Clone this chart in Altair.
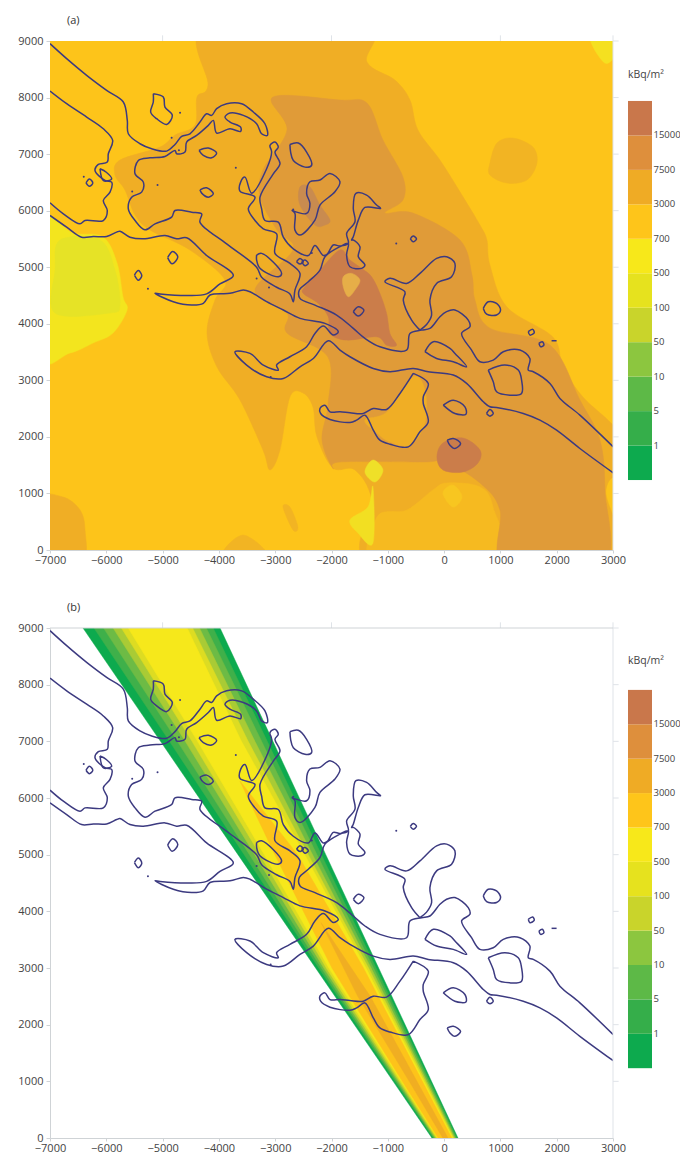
import altair as alt
import pandas as pd

FONT = "Open Sans"
XMIN, XMAX, YMIN, YMAX = -7000, 3000, 0, 9000
x_ticks = list(range(-7000, 3001, 1000))
y_ticks_a = list(range(0, 9001, 1000))
y_ticks_b = list(range(0, 9001, 500))
top_ticks = [-5000, -2000, 1000]
right_ticks = list(range(1000, 9001, 1000))

# ---- legend
legend_labels = ["1", "5", "10", "50", "100", "500", "700", "3000", "7500", "15000"]
legend_colors = ["#0DAA4E", "#35AE4A", "#5DB947", "#8CC63F", "#C9D42B", "#E6E21E",
                 "#F7E81A", "#FEC51A", "#EFAB25", "#DE8F3C", "#C9774B"]

# ---- contour lines (river banks, inlets, islands), data units
L1 = [(-7000,8953),(-6704,8688),(-6349,8393),(-5994,8127),(-5698,7921),(-5627,7596),(-5609,7360),(-5402,7183),
(-5194,7095),(-4928,7053),(-4780,7171),(-4662,7313),(-4514,7360),(-4336,7567),(-4218,7714),(-4129,7685),
(-4040,7803),(-3862,7891),(-3596,7891),(-3389,7744),(-3182,7537),(-3140,7330),(-3241,7360),(-3330,7537),
(-3566,7685),(-3803,7726),(-3892,7655),(-3803,7567),(-3614,7478),(-3614,7401),(-3803,7449),(-4040,7372),
(-4099,7596),(-4188,7508),(-4395,7330),(-4573,7213),(-4602,7036),(-4750,7006),(-4780,7065),(-4958,6959),
(-5224,6935),(-5431,6888),(-5490,6652),(-5342,6505),(-5372,6328),(-5550,6239),(-5609,6033),(-5490,5826),
(-5313,5661),(-5135,5767),(-4839,5885),(-4780,6003),(-4484,5974),(-4306,5944),(-4336,5797),(-3862,5413),
(-3330,5000),(-3241,4823),(-2974,4646),(-2738,4528),(-2679,4390),(-2649,4596),(-2560,4891),(-2738,5068),
(-3004,5245),(-2974,5590),(-3211,5679),(-3359,5826),(-3478,6033),(-3359,6239),(-3626,6345),(-3614,6505),
(-3537,6593),(-3418,6310),(-3152,6741),(-3063,7036),(-3093,7154),(-3004,7213),(-2945,7124),(-3004,7036),
(-2915,6829),(-3034,6652),(-3270,6239),(-3241,6033),(-3182,5826),(-2945,5797),(-2856,5531),(-2678,5325),
(-2412,5207),(-2294,5384),(-2146,5207),(-2075,5233),(-1968,5393),(-1850,5375),(-1702,5422),(-1731,5597),
(-1583,5804),(-1613,6040),(-1566,6305),(-1376,6276),(-1199,6099),(-1128,6040),(-1406,6057),(-1524,5833),
(-1613,5538),(-1643,5479),(-1613,5481),(-1495,5363),(-1524,5186),(-1406,5038),(-1465,4980),(-1672,5009),
(-1732,5215),(-1702,5422),(-1850,5363),(-2116,5186),(-2205,4950),(-2412,4743),(-2572,4596),(-2560,4449),
(-2294,4331),(-1909,4154),(-1613,3918),(-1406,3741),(-1140,3593),(-666,3534),(-607,3829),(-400,3888),
(-252,3918),(-74,4125),(44,4214),(192,4243),(429,4066),(459,3948),(311,3830),(488,3535),(636,3329),
(873,3358),(1051,3505),(1347,3535),(1524,3387),(1495,3181),(1584,3152),(1880,2945),(2057,2680),(2412,2385),
(3004,1824)]
L2 = [(-7000,8115),(-6704,7891),(-6349,7655),(-6053,7448),(-5887,7242),(-5964,7006),(-5982,6859),(-6142,6817),
(-6201,6711),(-6023,6534),(-5905,6505),(-5934,6328),(-6053,6180),(-5982,6003),(-6053,5826),(-6378,5826),
(-6467,5767),(-6763,5944),(-7000,6139)]
L3 = [(-7000,5915),(-6704,5708),(-6438,5531),(-6230,5543),(-5994,5543),(-5816,5620),(-5757,5637),(-5579,5531),
(-5342,5502),(-4958,5561),(-4751,5502),(-4573,5520),(-4218,5207),(-3744,4853),(-3981,4705),(-4218,4528),
(-4573,4499),(-5046,4528),(-5135,4540),(-4810,4391),(-4484,4332),(-4277,4361),(-4158,4509),(-3803,4538),
(-3566,4597),(-3448,4567),(-3152,4391),(-2856,4243),(-2560,4096),(-2116,4007),(-1879,3860),(-1968,3801),
(-2146,3960),(-2294,3830),(-2442,3594),(-2738,3417),(-2975,3270),(-2945,3181),(-3211,3270),(-3448,3476),
(-3714,3505),(-3507,3270),(-3152,3063),(-2856,3034),(-2560,3240),(-2323,3387),(-2057,3700),(-1849,3535),
(-1672,3417),(-1258,3210),(-962,3152),(-548,3210),(-281,3152),(163,3093),(400,2945),(696,2621),(814,2532),
(932,2520),(1406,2414),(1702,2296),(1998,2119),(2412,1795),(3004,1364)]
INLET = [(-429,3888),(-577,4065),(-725,4419),(-696,4566),(-1051,4743),(-962,4803),(-666,4714),(-429,4891),
(-133,5156),(45,5186),(192,5068),(133,4832),(-133,4714),(-252,4419),(-222,4153),(-311,3986),(-429,3888)]
LAKE = [(-548,3122),(-784,2768),(-1021,2485),(-1258,2502),(-1436,2414),(-1672,2426),(-1850,2443),(-2027,2443),
(-2116,2561),(-2205,2503),(-2193,2414),(-2027,2308),(-1672,2255),(-1554,2296),(-1406,2384),(-1258,2119),
(-1140,1942),(-962,1871),(-636,1824),(-429,2090),(-281,2266),(-370,2591),(-370,2709),(-281,2945),(-548,3122)]
ISLANDS = [
 [(-5165,8068),(-4987,8009),(-4958,7832),(-4827,7685),(-4928,7525),(-5106,7626),(-5212,7743),(-5165,7921)],
 [(-4354,7065),(-4188,7106),(-4040,7018),(-4129,6935),(-4277,6976)],
 [(-4336,6369),(-4218,6404),(-4099,6298),(-4188,6239),(-4306,6310)],
 [(-2738,7171),(-2590,7195),(-2442,7036),(-2353,6800),(-2471,6770),(-2678,6888),(-2726,7036)],
 [(-3330,5215),(-3241,5245),(-2886,4891),(-2945,4832),(-3271,4980),(-3330,5127)],
 [(-2708,6010),(-2442,5951),(-2383,6128),(-2442,6305),(-2383,6511),(-2205,6541),(-2027,6659),(-1850,6511),
  (-1939,6334),(-2205,6098),(-2294,5833),(-2560,5568),(-2649,5656),(-2649,5951)],
 [(-2620,5098),(-2560,5156),(-2501,5098),(-2560,5056)],
 [(-2531,5098),(-2472,5127),(-2412,5068),(-2472,5027)],
 [(-1613,4212),(-1524,4301),(-1424,4242),(-1524,4136)],
 [(-6360,6490),(-6300,6560),(-6240,6490),(-6300,6430)],
 [(-4910,5170),(-4820,5280),(-4730,5180),(-4830,5060)],
 [(-5500,4860),(-5430,4940),(-5370,4850),(-5430,4770)],
 [(-600,5500),(-550,5550),(-490,5500),(-550,5450)],
 [(696,4272),(784,4390),(932,4361),(1003,4243),(932,4155),(755,4172)],
 [(1495,3860),(1572,3901),(1601,3842),(1524,3800)],
 [(1684,3653),(1743,3683),(1773,3624),(1714,3594)],
 [(-15,2562),(163,2650),(370,2532),(388,2402),(192,2414)],
 [(56,1942),(163,1972),(293,1883),(192,1795),(104,1854)],
 [(-340,3506),(-192,3683),(104,3565),(193,3476),(400,3240),(163,3329),(-133,3387)],
 [(784,3181),(1080,3270),(1317,3181),(1376,3004),(1376,2768),(1169,2738),(932,2797),(873,2975)],
 [(754,2414),(814,2485),(873,2414),(814,2367)],
 [(-6112,6741),(-6000,6680),(-5905,6560),(-6050,6530)],
]
OPEN_BITS = [[(1909,3700),(1998,3700)]]
DOTS = [(-4840,7290),(-4690,7730),(-4710,7070),(-6400,6600),(-5090,6455),(-5540,6340),(-5260,4620),(-3330,4800),
        (-3700,6760),(-2680,6020),(-3080,3060),(-2350,5250),(-850,5420),(-3110,4640)]

# ---- panel (a) filled zones
BASE_COLOR = "#FDC41A"
zones_a = [
 ("#F0AE25", [(-4212,9300),(-1405,9300),(-1370,8628),(-873,8310),(-606,7956),(-464,7426),(-74,6895),(317,6276),
  (637,5746),(761,5481),(814,5039),(1116,4296),(1933,3766),(2111,3235),(2466,2705),(3100,2068),(3100,1415),
  (2875,1061),(2821,-300),(-1192,-300),(-1281,884),(-1583,1415),(-1974,1450),(-2258,1998),(-2329,2528),(-2507,2776),
  (-2738,2705),(-2915,1768),(-3093,1415),(-3217,1768),(-3626,2652),(-4034,3235),(-4212,3837),(-4070,4420),
  (-3892,4774),(-4514,5304),(-5224,5658),(-5490,5923),(-5668,6365),(-5846,6630),(-5757,6895),(-5046,7125),
  (-4780,7337),(-4425,7514),(-4389,8009),(-4194,8221)]),
 ("#F6BA20", [(-1192,-300),(-1192,583),(-660,708),(-198,1061),(51,1184),(637,1114),(868,760),(992,-300)]),
 ("#E09B38", [(-3040,8009),(-1850,7956),(-1370,7903),(-1086,7249),(-731,6595),(-731,6188),(-1050,5958),(-553,5958),
  (282,5481),(495,4862),(548,4420),(814,3923),(1880,3624),(2413,2652),(2768,1945),(2857,1061),(2821,-300),(1081,-300),
  (992,707),(637,1185),(15,1556),(-376,1556),(-1850,1556),(-1974,1450),(-2169,1945),(-2063,2564),(-2063,3412),
  (-2791,3837),(-2791,4190),(-3359,4597),(-2684,5304),(-2968,5658),(-3270,6241),(-3217,6718),(-2791,7426)]),
 ("#F0AE25", [(-1406,2298),(-1015,2440),(-553,3059),(-340,2829),(-340,2245),(-607,1856),(-961,1909),(-1192,2069)]),
 ("#CB7D4A", [(-1850,5304),(-2205,4950),(-2472,4655),(-2501,4537),(-2235,4360),(-2057,4124),(-2028,3829),(-1732,3711),
  (-1199,3770),(-1021,3622),(-844,3622),(-962,3829),(-1021,4183),(-1140,4537),(-1288,4832),(-1465,4980),(-1672,5127)]),
 ("#E6AE48", [(-1791,4832),(-1643,4891),(-1495,4773),(-1584,4596),(-1702,4478),(-1791,4655)]),
 ("#C98B4F", [(-2560,6418),(-2382,6418),(-2205,6100),(-2027,5834),(-2116,5746),(-2294,5746),(-2560,6100)]),
 ("#CB7D4A", [(-127,1644),(-20,1892),(335,1980),(637,1768),(601,1538),(335,1379),(-20,1415)]),
 ("#F2B423", [(814,6842),(939,7196),(1223,7284),(1578,7125),(1649,6842),(1472,6542),(1116,6488),(814,6630)]),
 ("#F0AE25", [(-7200,884),(-6769,937),(-6467,707),(-6378,354),(-6432,-200),(-7200,-200)]),
 ("#F2B423", [(-3928,-100),(-3572,265),(-3146,-100)]),
 ("#F2B423", [(-2862,760),(-2738,760),(-2596,407),(-2684,354)]),
 ("#F3E51E", [(-7200,5834),(-6592,5604),(-6059,5534),(-5810,5074),(-5704,4473),(-5632,4243),(-5881,3837),(-6236,3660),
  (-6645,3483),(-7200,3448)]),
 ("#E6E326", [(-6822,5481),(-6112,5481),(-5846,4950),(-5757,4332),(-5934,4190),(-6911,4190),(-6911,4950)]),
 ("#F5E020", [(2590,9100),(3100,9100),(3100,8840),(2857,8610)]),
 ("#F2DF22", [(-1264,1114),(-1352,760),(-1672,530),(-1530,300),(-1264,124)]),
 ("#EFE028", [(-1406,1379),(-1264,1591),(-1086,1414),(-1228,1202)]),
 ("#F8C620", [(-20,1008),(157,1149),(317,937),(157,760)]),
]

# ---- panel (b) nested plume bands (left edge going down, then right edge going up)
plume_y = [9000, 7000, 5000, 3000, 1000, 0]
zones_b = [
 ("#0DAA4E", [-6414,-5037,-3660,-2282,-905,-216], [-3980,-3041,-2102,-1163,-224,246]),
 ("#3FB04A", [-6219,-4877,-3551,-2226,-871,-193], [-4102,-3141,-2180,-1208,-251,228]),
 ("#6DBB45", [-6049,-4738,-3457,-2181,-844,-174], [-4223,-3241,-2258,-1253,-278,209]),
 ("#A9CB35", [-5879,-4598,-3364,-2137,-816,-156], [-4345,-3360,-2336,-1297,-306,191]),
 ("#DDDC22", [-5732,-4478,-3270,-2092,-789,-137], [-4467,-3480,-2414,-1342,-333,172]),
 ("#F6E81B", [-5611,-4378,-3193,-2047,-762,-119], [-4564,-3600,-2476,-1387,-360,154]),
]
orange_poly = [(-3626,6300),(-3006,5000),(-1991,3000),(-742,1000),(-105,0),(135,0),(-387,1000),(-1432,3000),(-2601,5000)]
center_poly = [(-2186,3800),(-1534,2500),(-619,1000),(-22,0),(70,0),(-483,1000),(-1312,2500)]

x_scale = alt.Scale(domain=[XMIN, XMAX], nice=False, zero=False)
y_scale = alt.Scale(domain=[YMIN, YMAX], nice=False, zero=False)
AX = dict(title=None, grid=False, domainColor="#cfd3d6", tickColor="#cfd3d6",
          labelFont=FONT, labelFontSize=11, labelColor="#444444", labelOverlap=False, labelFlush=False)
AX_X = dict(tickSize=3, labelPadding=1, **AX)
AX_Y = dict(tickSize=4, labelPadding=3, **AX)


def enc(y_ticks):
    return dict(
        x=alt.X("x:Q", scale=x_scale, axis=alt.Axis(values=x_ticks, format="d", **AX_X)),
        y=alt.Y("y:Q", scale=y_scale, axis=alt.Axis(values=y_ticks, format="d", **AX_Y)),
    )


def poly(points, color, y_ticks, curve="linear-closed"):
    df = pd.DataFrame({"x": [p[0] for p in points], "y": [p[1] for p in points], "i": range(len(points))})
    return alt.Chart(df).mark_line(fill=color, stroke=color, strokeWidth=0.5, fillOpacity=1,
                                   interpolate=curve, clip=True).encode(
        order=alt.Order("i:Q"), **enc(y_ticks))


def contour_layers(y_ticks):
    rows = []
    lines = [L1, L2, L3, INLET, LAKE] + [s + s[:1] for s in ISLANDS] + OPEN_BITS
    for k, line in enumerate(lines):
        for i, (x, y) in enumerate(line):
            rows.append({"x": x, "y": y, "i": i, "k": k})
    lines_ch = alt.Chart(pd.DataFrame(rows)).mark_line(color="#3C3A80", strokeWidth=1.5, clip=True,
                                                       interpolate="catmull-rom").encode(
        detail="k:N", order=alt.Order("i:Q"), **enc(y_ticks))
    dots = alt.Chart(pd.DataFrame({"x": [d[0] for d in DOTS], "y": [d[1] for d in DOTS]})).mark_point(
        filled=True, color="#3C3A80", size=4, opacity=1).encode(**enc(y_ticks))
    return [lines_ch, dots]


def frame_layers(y_ticks, top_line):
    faint = "#dfe3e8"
    out = []
    t = pd.DataFrame({"x": top_ticks + [XMAX], "y": [YMAX] * 4, "y2": [YMAX + 100] * 4})
    out.append(alt.Chart(t).mark_rule(color=faint, clip=False).encode(
        x=alt.X("x:Q", scale=x_scale), y=alt.Y("y:Q", scale=y_scale), y2="y2:Q"))
    r = pd.DataFrame({"y": right_ticks, "x": [XMAX] * len(right_ticks), "x2": [XMAX + 100] * len(right_ticks)})
    out.append(alt.Chart(r).mark_rule(color=faint, clip=False).encode(
        y=alt.Y("y:Q", scale=y_scale), x=alt.X("x:Q", scale=x_scale), x2="x2:Q"))
    e = pd.DataFrame({"x": [XMAX], "y": [YMIN], "y2": [YMAX]})
    out.append(alt.Chart(e).mark_rule(color=faint).encode(
        x=alt.X("x:Q", scale=x_scale), y=alt.Y("y:Q", scale=y_scale), y2="y2:Q"))
    if top_line:
        e2 = pd.DataFrame({"x": [XMIN], "x2": [XMAX], "y": [YMAX]})
        out.append(alt.Chart(e2).mark_rule(color="#cfd3d6").encode(
            x=alt.X("x:Q", scale=x_scale), x2="x2:Q", y=alt.Y("y:Q", scale=y_scale)))
    return out


def legend(height, domain, title_y):
    bands = pd.DataFrame({"y": list(range(11)), "y2": list(range(1, 12)), "c": legend_colors,
                          "x": [0] * 11, "x2": [1] * 11})
    xs = alt.Scale(domain=[0, 1], nice=False, zero=False)
    ys = alt.Scale(domain=domain, nice=False, zero=False)
    rects = alt.Chart(bands).mark_rect(stroke=None).encode(
        x=alt.X("x:Q", scale=xs, axis=None), x2="x2:Q",
        y=alt.Y("y:Q", scale=ys, axis=None), y2="y2:Q",
        color=alt.Color("c:N", scale=None, legend=None))
    labs = pd.DataFrame({"y": list(range(1, 11)), "t": legend_labels, "x": [1] * 10})
    text = alt.Chart(labs).mark_text(align="left", dx=1.5, font=FONT, fontSize=9.5, color="#444444").encode(
        x=alt.X("x:Q", scale=xs, axis=None), y=alt.Y("y:Q", scale=ys, axis=None), text="t:N")
    unit = pd.DataFrame({"x": [0], "y": [title_y], "t": ["kBq/m²"]})
    utext = alt.Chart(unit).mark_text(align="left", font=FONT, fontSize=10.5, color="#444444").encode(
        x=alt.X("x:Q", scale=xs, axis=None), y=alt.Y("y:Q", scale=ys, axis=None), text="t:N")
    return alt.layer(rects, text, utext).properties(width=24, height=height)


def title(text):
    return alt.TitleParams(text=text, anchor="start", frame="group", dx=17, offset=9, fontSize=11,
                           font=FONT, fontWeight="normal", color="#333333")


base_df = pd.DataFrame({"x": [XMIN], "x2": [XMAX], "y": [YMIN], "y2": [YMAX]})
base = alt.Chart(base_df).mark_rect(color=BASE_COLOR).encode(
    x=alt.X("x:Q", scale=x_scale, axis=alt.Axis(values=x_ticks, format="d", **AX_X)), x2="x2:Q",
    y=alt.Y("y:Q", scale=y_scale, axis=alt.Axis(values=y_ticks_a, format="d", **AX_Y)), y2="y2:Q")

panel_a = alt.layer(
    base,
    *[poly(p, c, y_ticks_a, "cardinal-closed") for c, p in zones_a],
    *contour_layers(y_ticks_a),
    *frame_layers(y_ticks_a, False),
).properties(width=563, height=509, title=title("(a)"))

b_polys = [poly(list(zip(l, plume_y)) + list(zip(r[::-1], plume_y[::-1])), c, y_ticks_b) for c, l, r in zones_b]
panel_b = alt.layer(
    *b_polys,
    poly(orange_poly, "#FDC31A", y_ticks_b),
    poly(center_poly, "#F0AE22", y_ticks_b),
    *contour_layers(y_ticks_b),
    *frame_layers(y_ticks_b, True),
).properties(width=563, height=510, title=title("(b)"))

row_a = alt.hconcat(panel_a, legend(509, [-2.03, 12.74], 11.75), spacing=2)
row_b = alt.hconcat(panel_b, legend(510, [-2.03, 12.8], 11.84), spacing=2)

chart = alt.vconcat(row_a, row_b, spacing=36).properties(
    padding={"left": 9, "top": 6, "right": -1, "bottom": 0}, background="white"
).configure_view(stroke=None)

chart.save("out.html", embed_options={"renderer": "svg", "actions": False})
